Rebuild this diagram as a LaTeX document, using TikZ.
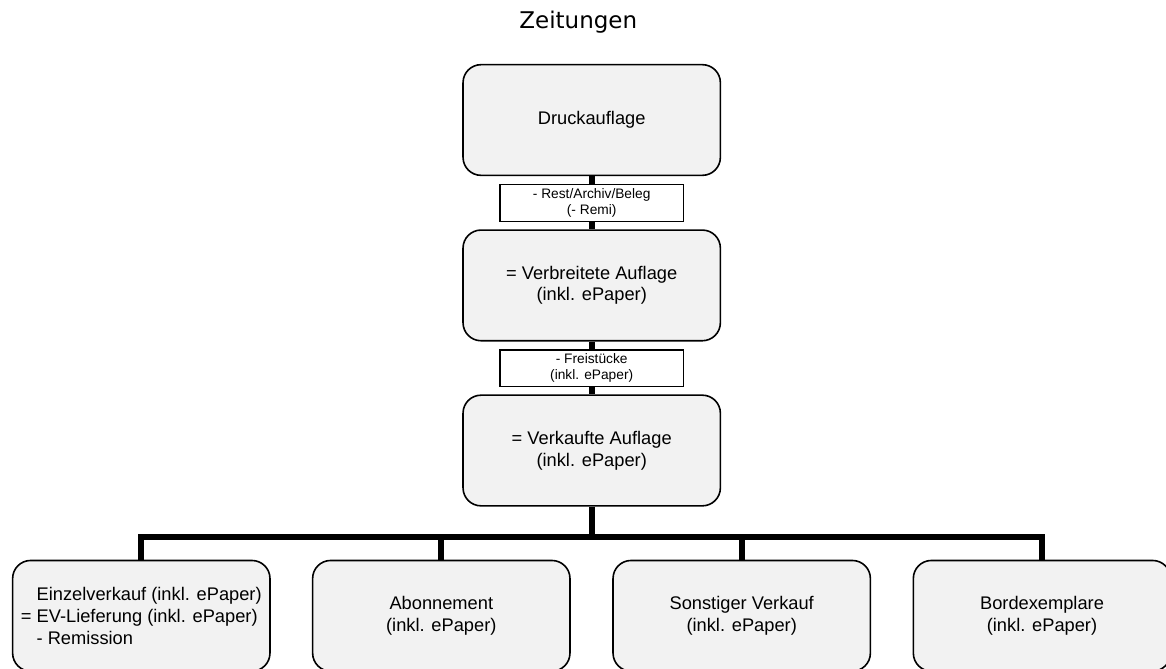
\documentclass[tikz,border=0pt]{standalone}
\usepackage{fontspec}
\setmainfont{Liberation Sans}
\newfontfamily\titlefont{DejaVu Sans}
\usepackage{xcolor}
\definecolor{boxgray}{HTML}{F2F2F2}

\begin{document}
\begin{tikzpicture}[x=0.75pt, y=0.75pt,
  stage/.style={draw, line width=1.2pt, fill=boxgray, rounded corners=13.5pt,
    minimum width=193pt, minimum height=83pt, inner sep=2pt, align=center,
    font=\fontsize{13.7}{16.3}\selectfont},
  deduct/.style={draw, line width=1.1pt, fill=white, minimum width=137.5pt,
    minimum height=27.5pt, inner sep=1pt, align=center,
    font=\fontsize{10.3}{12}\selectfont},
  trunk/.style={line width=4.4pt}]
  \useasboundingbox (0,0) rectangle (1166,-668);
  \node[font=\titlefont\fontsize{17.25}{20}\selectfont, anchor=base] (title) at (578.3,-28.3) {Zeitungen};
  % main chain
  \node[stage] (druck) at (591.7,-120) {Druckauflage};
  \node[deduct] (rest) at (591.7,-202.9) {- Rest/Archiv/Beleg\\(- Remi)};
  \node[stage] (verbr) at (591.7,-285.4) {= Verbreitete Auflage\\(inkl. ePaper)};
  \node[deduct] (frei) at (591.7,-368.3) {- Freistücke\\(inkl. ePaper)};
  \node[stage] (verk) at (591.7,-450.5) {= Verkaufte Auflage\\(inkl. ePaper)};
  % sales channels
  \node[stage, align=left] (ev) at (141.3,-615.8) {\phantom{= }Einzelverkauf (inkl. ePaper)\\= EV-Lieferung (inkl. ePaper)\\\phantom{= }- Remission};
  \node[stage] (abo) at (441.3,-615.8) {Abonnement\\(inkl. ePaper)};
  \node[stage] (sonst) at (741.7,-615.8) {Sonstiger Verkauf\\(inkl. ePaper)};
  \node[stage] (bord) at (1042,-615.8) {Bordexemplare\\(inkl. ePaper)};
  % connectors
  \foreach \a/\b in {druck/rest, rest/verbr, verbr/frei, frei/verk}
    \draw[trunk] (\a) -- (\b);
  \coordinate (bar) at (591.7,-537);
  \draw[trunk] (verk) -- (bar);
  \draw[trunk] (ev.north) |- (bar) -| (bord.north);
  \foreach \n in {abo, sonst}
    \draw[trunk] (\n.north) -- (\n.north |- bar);
\end{tikzpicture}
\end{document}
